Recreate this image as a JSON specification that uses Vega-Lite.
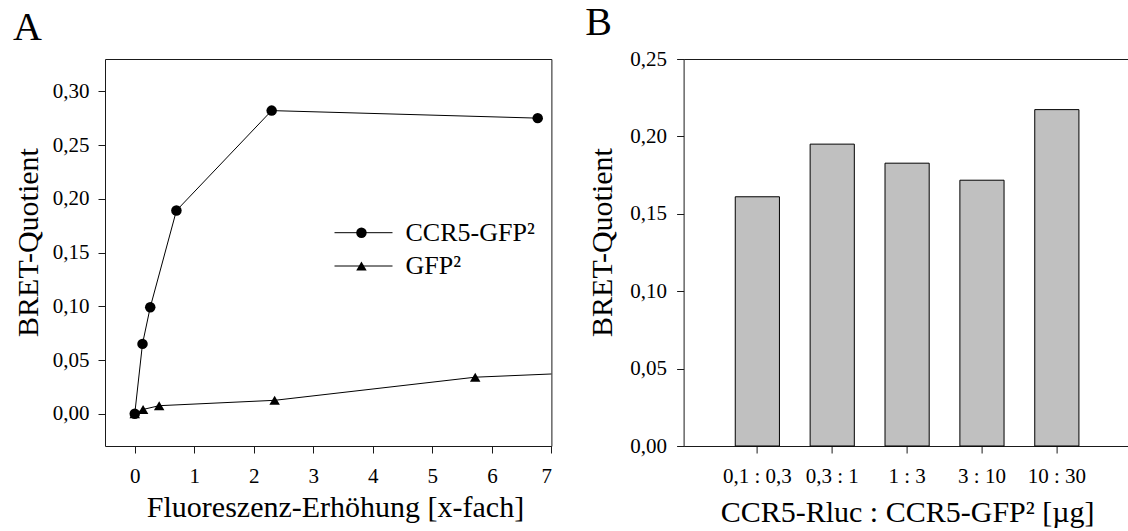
{
  "$schema": "https://vega.github.io/schema/vega-lite/v6.json",
  "background": "white",
  "padding": {"left": 12, "top": 2, "right": 0, "bottom": 0},
  "bounds": "flush",
  "spacing": 131.6,
  "config": {
    "font": "Liberation Serif, Times New Roman, serif",
    "view": {"stroke": "#1a1a1a", "strokeWidth": 1},
    "axis": {
      "domain": false, "grid": false, "tickColor": "#1a1a1a", "tickSize": 7, "tickWidth": 1,
      "labelFont": "Liberation Serif, Times New Roman, serif", "labelFontSize": 21, "labelColor": "#000",
      "titleFont": "Liberation Serif, Times New Roman, serif", "titleFontSize": 30, "titleFontWeight": "normal", "titleColor": "#000"
    },
    "legend": {"labelFont": "Liberation Serif, Times New Roman, serif"},
    "title": {"font": "Liberation Serif, Times New Roman, serif", "fontSize": 40, "fontWeight": "normal", "color": "#000"}
  },
  "hconcat": [
    {
      "width": 446.4,
      "height": 387,
      "title": {"text": "A", "anchor": "start", "frame": "group", "dx": -92, "offset": -21.4, "baseline": "alphabetic"},
      "data": {"values": [
        {"series": "GFP²", "x": 0, "y": 0},
        {"series": "GFP²", "x": 0.14, "y": 0.004},
        {"series": "GFP²", "x": 0.41, "y": 0.0075},
        {"series": "GFP²", "x": 2.35, "y": 0.0125},
        {"series": "GFP²", "x": 5.72, "y": 0.034},
        {"series": "GFP²", "x": 8.2, "y": 0.0398},
        {"series": "CCR5-GFP²", "x": 0, "y": 0},
        {"series": "CCR5-GFP²", "x": 0.13, "y": 0.065},
        {"series": "CCR5-GFP²", "x": 0.26, "y": 0.099},
        {"series": "CCR5-GFP²", "x": 0.70, "y": 0.189},
        {"series": "CCR5-GFP²", "x": 2.30, "y": 0.282},
        {"series": "CCR5-GFP²", "x": 6.77, "y": 0.275}
      ]},
      "encoding": {
        "x": {
          "field": "x", "type": "quantitative",
          "scale": {"domain": [-0.5, 7], "nice": false, "zero": false},
          "axis": {
            "values": [0, 1, 2, 3, 4, 5, 6, 7],
            "title": "Fluoreszenz-Erhöhung [x-fach]",
            "labelBaseline": "alphabetic", "labelPadding": 29.7,
            "titleBaseline": "alphabetic", "titleY": 70, "titleX": 230
          }
        },
        "y": {
          "field": "y", "type": "quantitative",
          "scale": {"domain": [-0.03, 0.33], "nice": false, "zero": false},
          "axis": {
            "values": [0, 0.05, 0.1, 0.15, 0.2, 0.25, 0.3],
            "labelExpr": "replace(format(datum.value, '.2f'), '.', ',')",
            "labelPadding": 9,
            "title": "BRET-Quotient",
            "titleBaseline": "alphabetic", "titleX": -67.6, "titleY": 183
          }
        }
      },
      "layer": [
        {
          "mark": {"type": "line", "strokeWidth": 1, "clip": true},
          "encoding": {
            "color": {
              "field": "series", "type": "nominal",
              "scale": {"domain": ["CCR5-GFP²", "GFP²"], "range": ["#000", "#000"]},
              "legend": {
                "title": null, "orient": "none", "legendX": 229, "legendY": 160.7,
                "padding": 0, "symbolType": "stroke", "symbolSize": 3364, "symbolStrokeWidth": 1,
                "clipHeight": 26, "rowPadding": 7.3,
                "labelFontSize": 26, "labelExpr": "''", "labelOffset": 15, "symbolOffset": 0
              }
            }
          }
        },
        {
          "mark": {"type": "point", "filled": true, "color": "#000", "opacity": 1, "size": 110, "clip": true},
          "encoding": {
            "shape": {
              "field": "series", "type": "nominal",
              "scale": {"range": ["circle", "triangle-up"]},
              "legend": {
                "title": null, "orient": "none", "legendX": 229, "legendY": 160.7,
                "padding": 0, "symbolSize": 110, "symbolOpacity": 1,
                "symbolFillColor": "#000", "symbolStrokeColor": "#000",
                "clipHeight": 26, "rowPadding": 7.3,
                "labelFontSize": 26, "labelColor": "#000",
                "labelOffset": 31.05, "symbolOffset": 14.45
              }
            }
          }
        }
      ]
    },
    {
      "width": 447,
      "height": 387,
      "title": {"text": "B", "anchor": "start", "frame": "group", "dx": -98.3, "offset": -26.9, "baseline": "alphabetic"},
      "data": {"values": [
        {"ratio": "0,1 : 0,3", "y": 0.161},
        {"ratio": "0,3 : 1", "y": 0.195},
        {"ratio": "1 : 3", "y": 0.1827},
        {"ratio": "3 : 10", "y": 0.1717},
        {"ratio": "10 : 30", "y": 0.2173}
      ]},
      "mark": {"type": "bar", "fill": "#c0c0c0", "stroke": "#000", "strokeWidth": 1},
      "encoding": {
        "x": {
          "field": "ratio", "type": "nominal", "sort": null,
          "scale": {"paddingInner": 0.41, "paddingOuter": 0.69},
          "axis": {
            "labelAngle": 0, "title": "CCR5-Rluc : CCR5-GFP² [µg]",
            "labelBaseline": "alphabetic", "labelPadding": 29.7,
            "titleBaseline": "alphabetic", "titleY": 75
          }
        },
        "y": {
          "field": "y", "type": "quantitative",
          "scale": {"domain": [0, 0.25], "nice": false},
          "axis": {
            "values": [0, 0.05, 0.1, 0.15, 0.2, 0.25],
            "labelExpr": "replace(format(datum.value, '.2f'), '.', ',')",
            "labelPadding": 10,
            "title": "BRET-Quotient",
            "titleBaseline": "alphabetic", "titleX": -72.3, "titleY": 183
          }
        }
      }
    }
  ]
}
